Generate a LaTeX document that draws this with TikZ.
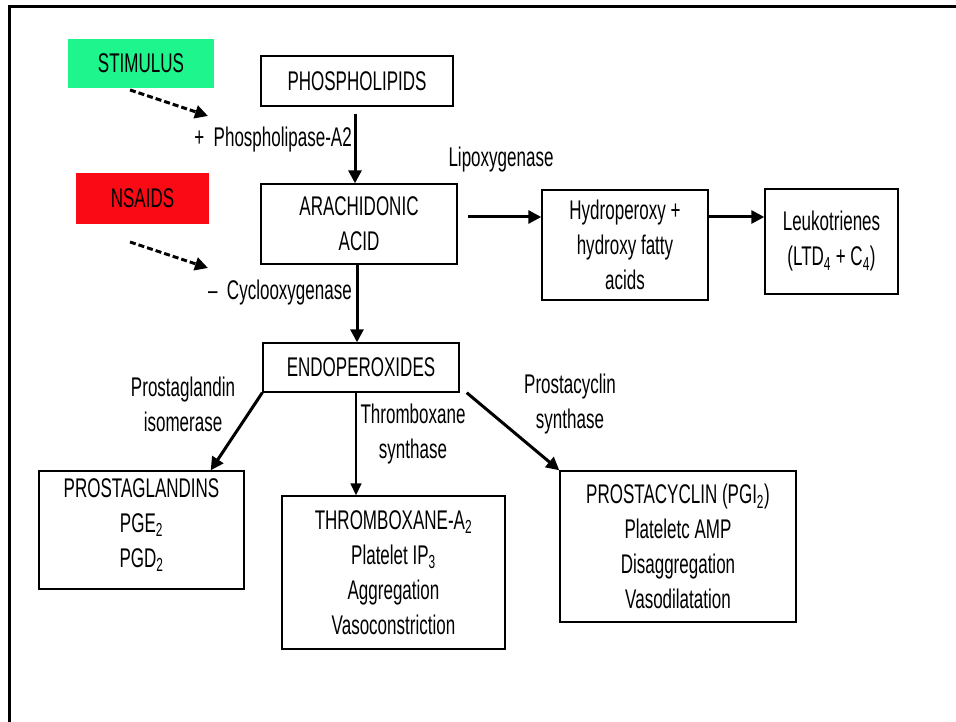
\documentclass[tikz,border=0pt]{standalone}
\usepackage{fontspec}
\setmainfont[FakeStretch=0.63]{Liberation Sans}
\usetikzlibrary{arrows.meta,calc}
\definecolor{stimgreen}{RGB}{30,245,140}
\definecolor{nsred}{RGB}{250,10,20}
\newcommand{\dfont}{\fontsize{27}{35}\selectfont}
\begin{document}
\begin{tikzpicture}[x=1pt,y=-1pt,
  box/.style={draw, line width=1.4pt, inner sep=0pt, align=center, font=\dfont},
  lbl/.style={inner sep=0pt, align=center, font=\dfont},
  thickarr/.style={line width=3pt, -{Triangle[length=13pt,width=13pt]}},
  thinarr/.style={line width=1.5pt, -{Triangle[length=12pt,width=11pt]}},
  dasharr/.style={line width=3pt, dash pattern=on 6pt off 3pt, -{Triangle[length=13pt,width=13pt]}}]
\useasboundingbox[fill=white] (0,0) rectangle (956,722);
% frame
\draw[line width=3pt] (9,722) -- (9,7) -- (956,7);
% colored boxes
\node[box, draw=none, fill=stimgreen, minimum width=146pt, minimum height=49pt] (stim) at (141,63.5) {STIMULUS};
\node[box, draw=none, fill=nsred, minimum width=133pt, minimum height=51pt] (nsaid) at (142.5,198.5) {NSAIDS};
% main boxes
\node[box, minimum width=192pt, minimum height=50pt] (phos) at (357,81) {PHOSPHOLIPIDS};
\node[box, minimum width=196pt, minimum height=80pt] (arach) at (359,224) {ARACHIDONIC\\ACID};
\node[box, minimum width=166pt, minimum height=110pt] (hydro) at (625,245) {Hydroperoxy +\\hydroxy fatty\\acids};
\node[box, minimum width=133pt, minimum height=105pt] (leuk) at (831.5,241.5) {Leukotrienes\\(LTD\textsubscript{4} + C\textsubscript{4})};
\node[box, minimum width=196pt, minimum height=49pt] (endo) at (361,367.5) {ENDOPEROXIDES};
\node[box, minimum width=205pt, minimum height=118pt] (pg) at (141.5,530) {};
\node[lbl] (pgt) at (141.5,525) {PROSTAGLANDINS\\PGE\textsubscript{2}\\PGD\textsubscript{2}};
\node[box, minimum width=223pt, minimum height=153pt] (tx) at (393.5,572.5) {THROMBOXANE-A\textsubscript{2}\\Platelet IP\textsubscript{3}\\Aggregation\\Vasoconstriction};
\node[box, minimum width=236pt, minimum height=151pt] (pc) at (678,546.5) {PROSTACYCLIN (PGI\textsubscript{2})\\Platelet{}c AMP\\Disaggregation\\Vasodilatation};
% labels
\node[lbl, anchor=east] (pla) at (352,140) {+ \ Phospholipase-A2};
\node[lbl] (lipo) at (501,160) {Lipoxygenase};
\node[lbl, anchor=east] (cox) at (352,293) {–\ \ Cyclooxygenase};
\node[lbl] (pgiso) at (183,404) {Prostaglandin\\isomerase};
\node[lbl] (txs) at (413,434) {Thromboxane\\synthase};
\node[lbl] (pcs) at (570,404) {Prostacyclin\\synthase};
% dashed arrows
\coordinate (s1) at (130,90);
\coordinate (s2) at (208,116);
\coordinate (n1) at (130,242);
\coordinate (n2) at (208,268);
\draw[dasharr] (s1) -- (s2);
\draw[dasharr] (n1) -- (n2);
% solid arrows
\draw[thickarr] ([xshift=-2pt,yshift=-7pt]phos.south) -- ([xshift=-2pt]phos.south |- arach.north);
\draw[thickarr] ([xshift=-2pt]arach.south) -- ([xshift=-2pt]arach.south |- endo.north);
\draw[thickarr] ([xshift=10pt,yshift=7pt]arach.east) -- ([yshift=7pt]arach.east -| hydro.west);
\draw[thickarr] ([yshift=28pt]hydro.east) -- ([yshift=28pt]hydro.east -| leuk.west);
\draw[thickarr] (endo.south west) -- ([xshift=-34pt]pg.north east);
\draw[thinarr] ([xshift=-5pt]endo.south) -- ([xshift=-5pt]endo.south |- tx.north);
\draw[thickarr] ([xshift=7pt]endo.south east) -- (pc.north west);
\end{tikzpicture}
\end{document}
